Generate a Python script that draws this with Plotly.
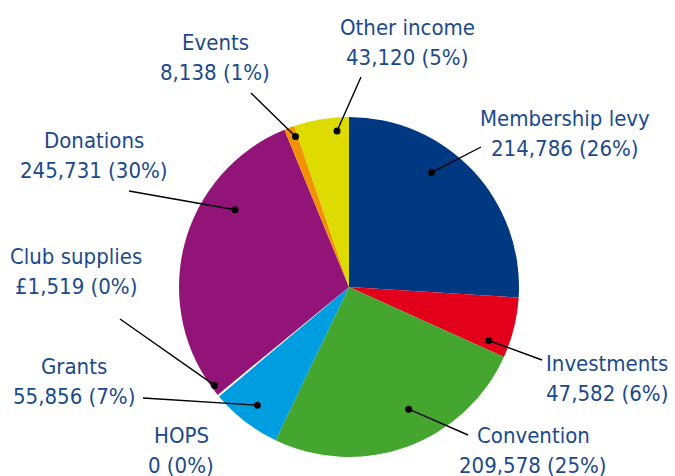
import math
import plotly.graph_objects as go

# ---- data ----
categories = ["Membership levy", "Investments", "Convention", "HOPS", "Grants",
              "Club supplies", "Donations", "Events", "Other income"]
values = [214786, 47582, 209578, 0, 55856, 1519, 245731, 8138, 43120]
value_labels = ["214,786 (26%)", "47,582 (6%)", "209,578 (25%)", "0 (0%)", "55,856 (7%)",
                "£1,519 (0%)", "245,731 (30%)", "8,138 (1%)", "43,120 (5%)"]
colors = ["#003882", "#E2001A", "#45A62F", "#8C8C8C", "#009EE0",
          "#FFFFFF", "#921479", "#F39200", "#DDDB00"]

# ---- layout / style ----
W, H = 675, 476
CX, CY, R = 349, 287, 170
TEXT_COLOR = "#1B4A8C"
FONT = "DejaVu Sans Condensed"
FS = 22
LINE_GAP = 30
# label text centre (x, y) and leader-line start, dot angle nudge (deg), dot radius fraction
label_style = {
    "Membership levy": dict(tx=565, ty=133, lx=481, ly=147, da=-11, rf=0.83),
    "Investments":     dict(tx=607, ty=378, lx=542, ly=360, da=7, rf=0.88),
    "Convention":      dict(tx=533, ty=450, lx=468, ly=435, da=-6, rf=0.80),
    "HOPS":            dict(tx=181, ty=450, lx=None, ly=None, da=0, rf=0.9),
    "Grants":          dict(tx=74, ty=381, lx=143, ly=398, da=0, rf=0.88),
    "Club supplies":   dict(tx=76, ty=271, lx=120, ly=319, da=3.5, rf=0.98),
    "Donations":       dict(tx=94, ty=155, lx=129, ly=191, da=20, rf=0.81),
    "Events":          dict(tx=215, ty=57, lx=251, ly=93, da=1, rf=0.94),
    "Other income":    dict(tx=407, ty=42, lx=361, ly=77, da=5, rf=0.92),
}

fig = go.Figure()
fig.add_trace(go.Pie(
    labels=categories, values=values, sort=False, direction="clockwise", rotation=0,
    marker=dict(colors=colors, line=dict(width=0)),
    textinfo="none", hoverinfo="skip", showlegend=False,
    domain=dict(x=[(CX - R) / W, (CX + R) / W], y=[(H - CY - R) / H, (H - CY + R) / H]),
))

total = sum(values)
cum = 0
DOT_R = 3.5
for cat, v, vl in zip(categories, values, value_labels):
    st = label_style[cat]
    mid = (cum + v / 2) / total * 360 + st["da"]
    cum += v
    for txt, yy in ((cat, st["ty"] - LINE_GAP / 2), (vl, st["ty"] + LINE_GAP / 2)):
        fig.add_annotation(x=st["tx"], y=yy, xref="x", yref="y",
                           text=txt, showarrow=False,
                           font=dict(family=FONT, size=FS, color=TEXT_COLOR),
                           align="center", xanchor="center", yanchor="middle")
    if st["lx"] is None:
        continue
    px = CX + R * st["rf"] * math.sin(math.radians(mid))
    py = CY - R * st["rf"] * math.cos(math.radians(mid))
    fig.add_shape(type="line", xref="x", yref="y", x0=st["lx"], y0=st["ly"], x1=px, y1=py,
                  line=dict(color="black", width=1.4), layer="above")
    fig.add_shape(type="circle", xref="x", yref="y",
                  x0=px - DOT_R, x1=px + DOT_R, y0=py - DOT_R, y1=py + DOT_R,
                  fillcolor="black", line=dict(width=0), layer="above")

fig.update_layout(
    width=W, height=H, margin=dict(l=0, r=0, t=0, b=0),
    paper_bgcolor="white", plot_bgcolor="rgba(0,0,0,0)",
    xaxis=dict(range=[0, W], visible=False, fixedrange=True),
    yaxis=dict(range=[H, 0], visible=False, fixedrange=True),
)
fig.write_html("out.html", config={"displayModeBar": False},
               post_script="document.body.style.margin='0';")
